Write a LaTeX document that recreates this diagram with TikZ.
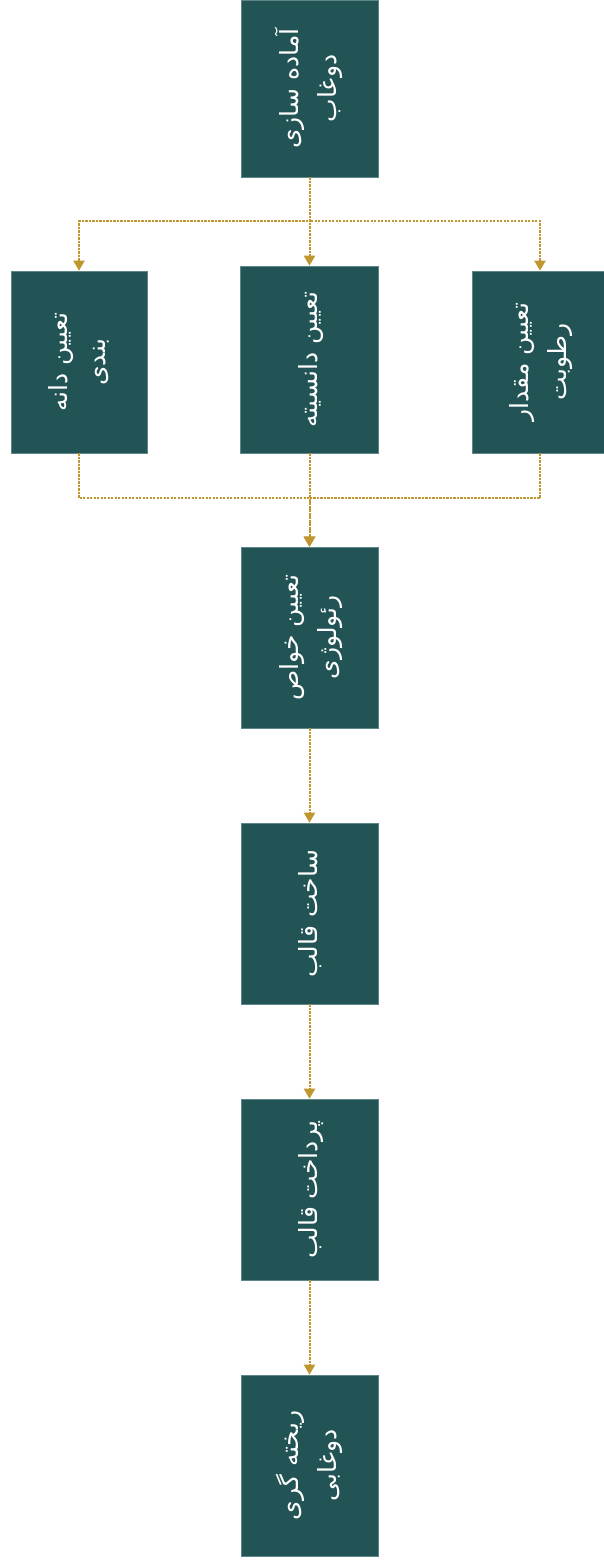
\documentclass[tikz,border=0pt]{standalone}
\usepackage{fontspec}
\TeXXeTstate=1
\newfontfamily\fa[Script=Arabic]{DejaVu Sans}
\usetikzlibrary{arrows.meta}
\definecolor{boxfill}{HTML}{225355}
\definecolor{boxline}{HTML}{5E8587}
\definecolor{gold}{HTML}{C0962F}
\begin{document}
\begin{tikzpicture}[x=1pt,y=-1pt,
  stepbox/.style={draw=boxline,line width=0.6pt,fill=boxfill,inner sep=0pt,
    text=white,align=center,font=\fa\fontsize{25}{38}\selectfont},
  conn/.style={draw=gold,line width=2pt,dash pattern=on 2.2pt off 1.3pt},
  arr/.style={-{Triangle[width=11pt,length=10pt,fill=gold]}}]
\useasboundingbox (0,0) rectangle (604,1564);
\fill[white] (0,0) rectangle (604,1564);
\node[stepbox,minimum width=137pt,minimum height=177pt] (b1) at (309.5,88.5)
  {\rotatebox{90}{\begin{tabular}{@{}c@{}}\beginR آماده سازی\endR\\\beginR دوغاب\endR\end{tabular}}};
\node[stepbox,minimum width=136pt,minimum height=182pt] (b2) at (79,362)
  {\rotatebox{90}{\begin{tabular}{@{}c@{}}\beginR تعیین دانه\endR\\\beginR بندی\endR\end{tabular}}};
\node[stepbox,minimum width=138pt,minimum height=187pt] (b3) at (309.5,359.5)
  {\rotatebox{90}{\begin{tabular}{@{}c@{}}\beginR تعیین دانسیته\endR\end{tabular}}};
\node[stepbox,minimum width=136pt,minimum height=182pt] (b4) at (540,362)
  {\rotatebox{90}{\begin{tabular}{@{}c@{}}\beginR تعیین مقدار\endR\\\beginR رطوبت\endR\end{tabular}}};
\node[stepbox,minimum width=137pt,minimum height=181pt] (b5) at (309.5,637.5)
  {\rotatebox{90}{\begin{tabular}{@{}c@{}}\beginR تعیین خواص\endR\\\beginR رئولوژی\endR\end{tabular}}};
\node[stepbox,minimum width=137pt,minimum height=181pt] (b6) at (309.5,913.5)
  {\rotatebox{90}{\begin{tabular}{@{}c@{}}\beginR ساخت قالب\endR\end{tabular}}};
\node[stepbox,minimum width=137pt,minimum height=181pt] (b7) at (309.5,1189.5)
  {\rotatebox{90}{\begin{tabular}{@{}c@{}}\beginR پرداخت قالب\endR\end{tabular}}};
\node[stepbox,minimum width=137pt,minimum height=181pt] (b8) at (309.5,1465.5)
  {\rotatebox{90}{\begin{tabular}{@{}c@{}}\beginR ریخته گری\endR\\\beginR دوغابی\endR\end{tabular}}};
% split
\draw[conn,arr] (b1.south) -- ++(0,44) -| (b2.north);
\draw[conn,arr] (b1.south) -- ++(0,44) -| (b4.north);
\draw[conn,arr] (b1.south) -- (b3.north);
% merge
\draw[conn,arr] (b2.south) -- ++(0,45) -| (b5.north);
\draw[conn,arr] (b4.south) -- ++(0,45) -| (b5.north);
\draw[conn,arr] (b3.south) -- (b5.north);
% chain
\draw[conn,arr] (b5.south) -- (b6.north);
\draw[conn,arr] (b6.south) -- (b7.north);
\draw[conn,arr] (b7.south) -- (b8.north);
\end{tikzpicture}
\end{document}
